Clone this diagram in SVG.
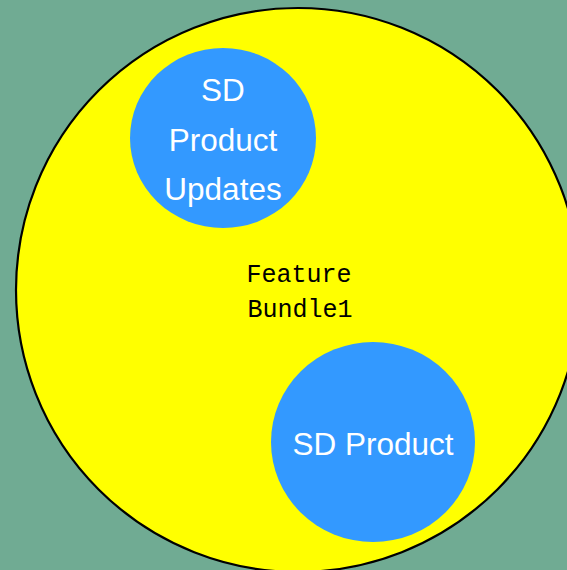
<svg xmlns="http://www.w3.org/2000/svg" width="567" height="570" viewBox="0 0 567 570">
  <style>
    .bundle { fill: #ffff00; stroke: #000000; stroke-width: 2.2; }
    .product { fill: #3399ff; stroke: none; }
    .label { font-family: "Liberation Sans", Arial, sans-serif; font-size: 31.5px; fill: #ffffff; text-anchor: middle; }
    .mono { font-family: "Courier New", "Liberation Mono", monospace; font-size: 25px; fill: #000000; text-anchor: middle; }
  </style>
  <rect x="0" y="0" width="567" height="570" fill="#70ab93"/>
  <g id="feature-bundle1">
    <circle class="bundle" cx="298" cy="290" r="282"/>
    <text class="mono" x="299" y="282">Feature</text>
    <text class="mono" x="300" y="317">Bundle1</text>
  </g>
  <g id="sd-product-updates">
    <ellipse class="product" cx="223" cy="138" rx="93" ry="90"/>
    <text class="label" x="223" y="101">SD</text>
    <text class="label" x="223" y="151">Product</text>
    <text class="label" x="223" y="200">Updates</text>
  </g>
  <g id="sd-product">
    <ellipse class="product" cx="373" cy="442" rx="102" ry="100"/>
    <text class="label" x="373" y="455">SD Product</text>
  </g>
  <g id="connectors"></g>
</svg>
